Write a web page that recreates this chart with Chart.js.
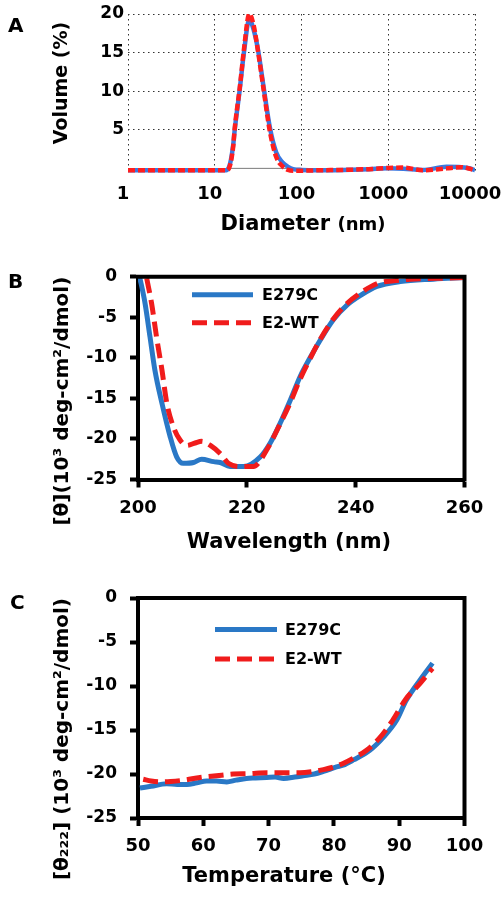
<!DOCTYPE html>
<html>
<head>
<meta charset="utf-8">
<script src="https://cdn.jsdelivr.net/npm/chart.js@4"></script>
<style>
html, body { margin: 0; padding: 0; background: #fff; }
#wrap { position: relative; width: 504px; height: 901px; overflow: hidden; background: #fff; }
#wrap canvas { position: absolute; left: 0; }
</style>
</head>
<body>
<div id="wrap">
  <canvas id="cA" width="504" height="240" style="top:0px"></canvas>
  <canvas id="cB" width="504" height="330" style="top:240px"></canvas>
  <canvas id="cC" width="504" height="331" style="top:570px"></canvas>
</div>
<script>
// ---------- Panel A : DLS volume distribution ----------
const dlsDiameterNm   = [1, 2, 5, 10, 13.6, 15, 16.3, 17, 19.4, 21.8, 25, 28, 31.6, 36.7, 43, 51, 60, 70, 80, 100, 150, 300, 600, 1000, 1500, 2500, 4700, 7000, 9000, 10000];
const dlsVolumeE279C  = [-0.25, -0.25, -0.25, -0.25, -0.25, 0.6, 3.0, 5.0, 10.2, 15.2, 19.3, 18.0, 15.3, 10.4, 5.4, 2.1, 0.8, 0.2, -0.1, -0.2, -0.25, -0.2, -0.1, 0.0, -0.05, -0.2, 0.2, 0.15, -0.05, -0.25];
const dlsVolumeE2WT   = [-0.25, -0.25, -0.25, -0.25, -0.25, 0.4, 2.8, 5.2, 10.4, 15.6, 20.0, 18.6, 15.1, 10.1, 4.9, 1.5, 0.3, -0.2, -0.3, -0.3, -0.25, -0.2, -0.1, 0.05, 0.1, -0.25, 0.0, 0.15, -0.1, -0.25];
const dlsBaselineX    = [14, 100];
const dlsBaselineY    = [0, 0];
const dlsXTicks       = [1, 10, 100, 1000, 10000];
const dlsYTicks       = [5, 10, 15, 20];

// ---------- Panel B : CD spectra ----------
const cdWavelengthE279C = [200.2, 201.3, 202.2, 203.1, 204.4, 205.9, 207.1, 208.3, 210.2, 211.7, 213.9, 215.1, 216.9, 219.4, 222.5, 224.3, 226.1, 228, 229.8, 231.7, 233.5, 235.9, 238.4, 240.9, 243.9, 248.2, 254.3, 260];
const cdThetaE279C      = [0.3, -3.3, -7.4, -11.5, -15.6, -19.7, -22.2, -23.0, -22.9, -22.5, -22.8, -22.9, -23.4, -23.4, -22.2, -20.5, -18.1, -15.2, -12.3, -9.9, -7.8, -5.3, -3.5, -2.3, -1.2, -0.6, -0.3, -0.1];
const cdWavelengthE2WT  = [201.6, 202.5, 203.4, 204.4, 205.3, 206.5, 207.7, 209, 210.5, 211.7, 213.3, 215.1, 216.6, 218.8, 221.2, 223.7, 226, 228, 229.8, 231.7, 233.5, 235.9, 238.4, 240.9, 244.1, 247, 250, 255, 260];
const cdThetaE2WT       = [-0.2, -3.3, -7.4, -11.5, -15.6, -18.5, -20.1, -20.8, -20.5, -20.3, -20.8, -21.8, -23.0, -23.4, -23.4, -21.3, -18.3, -15.5, -12.6, -10.0, -7.7, -5.2, -3.3, -2.0, -0.8, -0.5, -0.3, -0.2, -0.1];

// ---------- Panel C : thermal melt at 222 nm ----------
const tmTempE279C  = [50.3, 52, 54.4, 56, 57.5, 59, 60.5, 62, 63.6, 65, 66.6, 68, 69.7, 71, 72.3, 74, 75.3, 77, 78.4, 80.4, 81.4, 83, 85.5, 87.6, 89.6, 91.1, 93.2, 95.1];
const tmThetaE279C = [-21.6, -21.4, -21.1, -21.2, -21.2, -21.0, -20.8, -20.8, -20.9, -20.7, -20.5, -20.45, -20.4, -20.35, -20.5, -20.35, -20.2, -20.0, -19.7, -19.2, -19.0, -18.4, -17.3, -15.8, -13.9, -11.6, -9.3, -7.4];
const tmTempE2WT   = [50.8, 52, 53.5, 55, 57, 59.5, 62, 64.6, 67, 69.7, 72, 74.8, 76.5, 78.4, 80, 81.4, 83, 85, 87, 89, 91, 93.2, 95.1];
const tmThetaE2WT  = [-20.6, -20.8, -20.9, -20.85, -20.7, -20.4, -20.2, -20.0, -19.95, -19.85, -19.85, -19.85, -19.75, -19.5, -19.2, -18.8, -18.2, -17.3, -15.9, -13.9, -11.5, -9.7, -8.0];

const seriesNames = ['E279C', 'E2-WT'];

// ---------- styling ----------
const FONT = "'DejaVu Sans', sans-serif";
Chart.defaults.font.family = FONT;
Chart.defaults.font.weight = 'bold';
Chart.defaults.color = '#000';
Chart.defaults.animation = false;

const BLUE = '#2a78c6', RED = '#f01c1c';
const BLUE_A = '#3a78e0', RED_A = '#ff1e1e';

const xy = (xs, ys) => xs.map((x, i) => ({ x: x, y: ys[i] }));
const fixBox = (w, h) => (scale) => {
  if (w != null) scale.width = w;
  if (h != null) scale.height = h;
  scale.paddingLeft = 0; scale.paddingRight = 0; scale.paddingTop = 0; scale.paddingBottom = 0;
};

function textPlugin(items) {
  return {
    id: 'panelText',
    afterDraw(chart) {
      const ctx = chart.ctx;
      items.forEach(it => {
        ctx.save();
        ctx.fillStyle = '#000';
        ctx.textBaseline = it.baseline || 'alphabetic';
        ctx.translate(it.x, it.y);
        if (it.rotate) ctx.rotate(it.rotate);
        if (it.parts) {
          let total = 0;
          it.parts.forEach(p => { ctx.font = p.font; total += ctx.measureText(p.text).width; });
          let cx = -total / 2;
          ctx.textAlign = 'left';
          it.parts.forEach(p => { ctx.font = p.font; ctx.fillText(p.text, cx, 0); cx += ctx.measureText(p.text).width; });
        } else {
          ctx.font = it.font;
          ctx.textAlign = it.align || 'left';
          ctx.fillText(it.text, 0, 0);
        }
        ctx.restore();
      });
    }
  };
}

function framePlugin(width) {
  return {
    id: 'frame',
    afterDatasetsDraw(chart) {
      const { ctx, chartArea: a } = chart;
      ctx.save();
      ctx.strokeStyle = '#000';
      ctx.lineWidth = width;
      ctx.beginPath();
      ctx.moveTo(a.left - width / 2, a.top);
      ctx.lineTo(a.right, a.top);
      ctx.lineTo(a.right, a.bottom + width / 2);
      ctx.stroke();
      ctx.restore();
    }
  };
}

function legendPlugin(o) {
  return {
    id: 'lineLegend',
    afterDraw(chart) {
      const { ctx, chartArea: a } = chart;
      chart.data.datasets.forEach((ds, i) => {
        const y = a.top + o.y + i * o.dy;
        ctx.save();
        ctx.strokeStyle = ds.borderColor;
        ctx.lineWidth = ds.borderWidth;
        ctx.setLineDash(ds.borderDash || []);
        ctx.lineCap = 'butt';
        ctx.beginPath();
        ctx.moveTo(a.left + o.x1, y);
        ctx.lineTo(a.left + o.x2, y);
        ctx.stroke();
        ctx.setLineDash([]);
        ctx.font = o.font;
        ctx.fillStyle = '#000';
        ctx.textAlign = 'left';
        ctx.textBaseline = 'middle';
        ctx.fillText(ds.label, a.left + o.tx, y + 1);
        ctx.restore();
      });
    }
  };
}

// ---------- Panel A ----------
new Chart(document.getElementById('cA'), {
  type: 'line',
  data: {
    datasets: [
      { label: seriesNames[0], data: xy(dlsDiameterNm, dlsVolumeE279C), borderColor: BLUE_A, borderWidth: 4.5,
        pointRadius: 0, fill: false, cubicInterpolationMode: 'monotone', order: 1 },
      { label: seriesNames[1], data: xy(dlsDiameterNm, dlsVolumeE2WT), borderColor: RED_A, borderWidth: 4.5,
        borderDash: [7, 3], pointRadius: 0, fill: false, cubicInterpolationMode: 'monotone', order: 0 },
      { label: 'baseline', data: xy(dlsBaselineX, dlsBaselineY), borderColor: '#7a7a7a', borderWidth: 1,
        pointRadius: 0, fill: false, order: 2 }
    ]
  },
  options: {
    responsive: false,
    layout: { padding: { left: 0, right: 29, top: 14, bottom: 0 } },
    plugins: { legend: { display: false }, tooltip: { enabled: false } },
    scales: {
      x: {
        type: 'logarithmic', min: 1, max: 10000,
        afterBuildTicks: s => { s.ticks = dlsXTicks.map(v => ({ value: v })); },
        ticks: { font: { size: 18, weight: 'bold' }, padding: 11, labelOffset: -5, autoSkip: false, maxRotation: 0,
                 callback: v => String(v) },
        grid: { color: '#333', lineWidth: 1, drawTicks: false },
        border: { display: false, dash: [1.5, 3.5] },
        afterFit: fixBox(null, 67)
      },
      y: {
        type: 'linear', min: -0.6, max: 20,
        afterBuildTicks: s => { s.ticks = dlsYTicks.map(v => ({ value: v })); },
        ticks: { font: { size: 17, weight: 'bold' }, padding: 4 },
        grid: { color: '#333', lineWidth: 1, drawTicks: false },
        border: { display: false, dash: [1.5, 3.5] },
        afterFit: fixBox(128, null)
      }
    }
  },
  plugins: [textPlugin([
    { text: 'A', x: 8, y: 32, font: 'bold 20px ' + FONT },
    { text: 'Volume (%)', x: 62, y: 83, rotate: -Math.PI / 2, align: 'center', baseline: 'middle', font: 'bold 19px ' + FONT },
    { x: 303, y: 230, parts: [ { text: 'Diameter ', font: 'bold 21px ' + FONT }, { text: '(nm)', font: 'bold 18px ' + FONT } ] }
  ])]
});

// ---------- shared CD panel scales ----------
function cdScales(o) {
  const grid = { drawOnChartArea: false, drawTicks: true, tickLength: 8, tickWidth: 4, tickColor: '#000', color: '#000' };
  const border = { display: true, width: 4, color: '#000' };
  return {
    x: {
      type: 'linear', min: o.xMin, max: o.xMax,
      ticks: { stepSize: o.xStep, font: { size: 18, weight: 'bold' }, padding: 10, autoSkip: false, maxRotation: 0 },
      grid: grid, border: border,
      afterFit: fixBox(null, o.xH)
    },
    y: {
      type: 'linear', min: -25, max: 0,
      ticks: { stepSize: 5, font: { size: 17, weight: 'bold' }, padding: 13 },
      grid: grid, border: border,
      title: { display: true, text: o.yTitle, align: 'end', font: { size: 20, weight: 'bold' }, padding: { top: 51, bottom: 0 } },
      afterFit: fixBox(138, null)
    }
  };
}
function cdDatasets(x1, y1, x2, y2) {
  return [
    { label: seriesNames[0], data: xy(x1, y1), borderColor: BLUE, borderWidth: 5, pointRadius: 0, fill: false,
      cubicInterpolationMode: 'monotone', order: 1 },
    { label: seriesNames[1], data: xy(x2, y2), borderColor: RED, borderWidth: 5, borderDash: [15, 7], pointRadius: 0,
      fill: false, cubicInterpolationMode: 'monotone', order: 0 }
  ];
}

// ---------- Panel B ----------
new Chart(document.getElementById('cB'), {
  type: 'line',
  data: { datasets: cdDatasets(cdWavelengthE279C, cdThetaE279C, cdWavelengthE2WT, cdThetaE2WT) },
  options: {
    responsive: false,
    layout: { padding: { left: 0, right: 39.5, top: 36.7, bottom: 0 } },
    plugins: { legend: { display: false }, tooltip: { enabled: false } },
    scales: cdScales({ xMin: 200, xMax: 260, xStep: 20, xH: 90.5, yTitle: '[θ](10³ deg-cm²/dmol)' })
  },
  plugins: [
    framePlugin(4),
    legendPlugin({ x1: 54, x2: 115, tx: 124, y: 18, dy: 28, font: 'bold 16px ' + FONT }),
    textPlugin([
      { text: 'B', x: 8, y: 48, font: 'bold 20px ' + FONT },
      { text: 'Wavelength (nm)', x: 289, y: 302.5, align: 'center', baseline: 'middle', font: 'bold 21px ' + FONT }
    ])
  ]
});

// ---------- Panel C ----------
new Chart(document.getElementById('cC'), {
  type: 'line',
  data: { datasets: cdDatasets(tmTempE279C, tmThetaE279C, tmTempE2WT, tmThetaE2WT) },
  options: {
    responsive: false,
    layout: { padding: { left: 0, right: 39.5, top: 28, bottom: 0 } },
    plugins: { legend: { display: false }, tooltip: { enabled: false } },
    scales: cdScales({ xMin: 50, xMax: 100, xStep: 10, xH: 83, yTitle: '[θ₂₂₂] (10³ deg-cm²/dmol)' })
  },
  plugins: [
    framePlugin(4),
    legendPlugin({ x1: 77, x2: 139, tx: 147, y: 31.5, dy: 29.5, font: 'bold 16px ' + FONT }),
    textPlugin([
      { text: 'C', x: 10, y: 39, font: 'bold 20px ' + FONT },
      { text: 'Temperature (°C)', x: 284, y: 306.7, align: 'center', baseline: 'middle', font: 'bold 21px ' + FONT }
    ])
  ]
});
</script>
</body>
</html>
